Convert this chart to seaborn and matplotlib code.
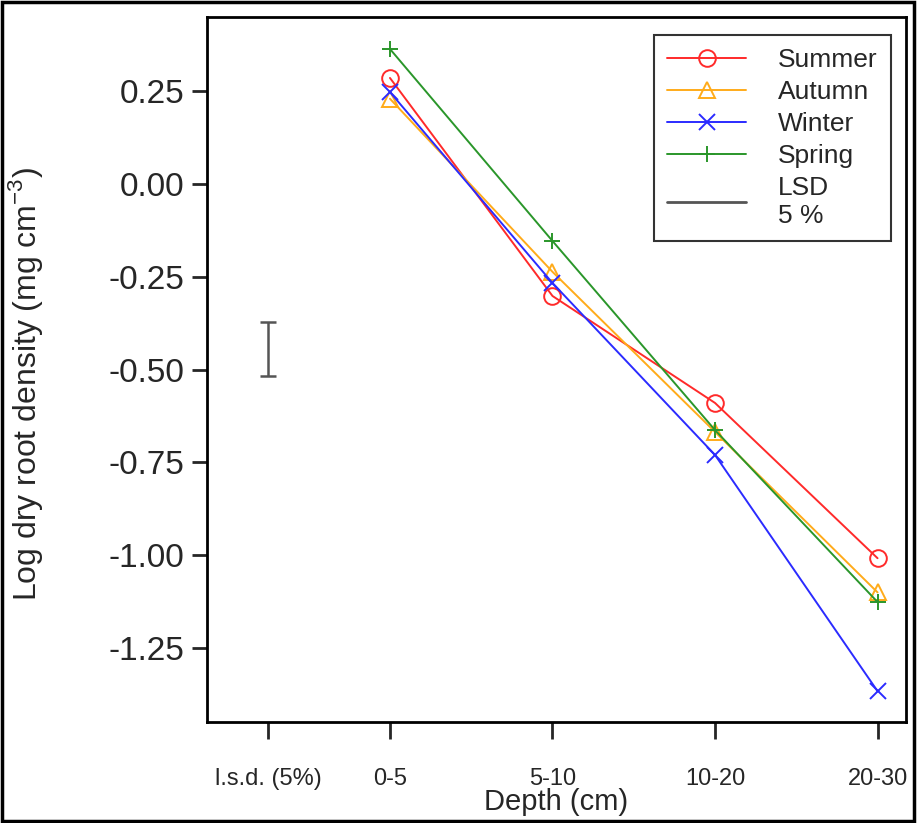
"""
Log dry root density against soil depth for four seasons, with the 5 % LSD bar.
"""
import pandas as pd
import seaborn as sns
import matplotlib.pyplot as plt
from matplotlib.lines import Line2D
from matplotlib.patches import Rectangle

# data
depth_labels = ["0-5", "5-10", "10-20", "20-30"]
depth_pos = [1, 2, 3, 4]
summer = [0.285, -0.302, -0.590, -1.008]
autumn = [0.229, -0.237, -0.668, -1.100]
winter = [0.247, -0.267, -0.730, -1.366]
spring = [0.363, -0.154, -0.663, -1.126]
seasons = ["Summer", "Autumn", "Winter", "Spring"]
lsd_pos = 0.25
lsd_centre = -0.445
lsd_value = 0.145

colors = {"Summer": "#ff2a2a", "Autumn": "#ffab1a", "Winter": "#2b2bff", "Spring": "#2a962a"}
markers = {"Summer": "o", "Autumn": "^", "Winter": "x", "Spring": "+"}

df = pd.DataFrame({
    "pos": depth_pos * 4,
    "value": summer + autumn + winter + spring,
    "Season": [s for s in seasons for _ in depth_pos],
})

sns.set_style("ticks")
plt.rcParams["font.family"] = ["Liberation Sans", "DejaVu Sans"]
plt.rcParams["axes.unicode_minus"] = False

fig = plt.figure(figsize=(9.17, 8.23), dpi=100)
ax = fig.add_axes([0.2257, 0.1227, 0.7623, 0.8566])

for s in seasons:
    sub = df[df["Season"] == s]
    sns.lineplot(data=sub, x="pos", y="value", ax=ax, color=colors[s], lw=1.4,
                 marker=markers[s], markersize=12, markerfacecolor="none",
                 markeredgecolor=colors[s], markeredgewidth=1.4, legend=False)

ax.errorbar([lsd_pos], [lsd_centre], yerr=[lsd_value / 2], color="#555555",
            lw=1.8, capsize=6, capthick=1.8)

ax.set_xlim(-0.126, 4.175)
ax.set_ylim(-1.449, 0.449)
ax.set_yticks([0.25, 0.0, -0.25, -0.5, -0.75, -1.0, -1.25])
ax.set_yticklabels(["0.25", "0.00", "-0.25", "-0.50", "-0.75", "-1.00", "-1.25"], fontsize=24)
ax.set_xticks([lsd_pos] + depth_pos)
ax.set_xticklabels(["l.s.d. (5%)"] + depth_labels, fontsize=17)
ax.tick_params(axis="y", direction="out", length=11, width=2, pad=5)
ax.tick_params(axis="x", direction="out", length=12, width=2, pad=21)

for sp in ax.spines.values():
    sp.set_visible(True)
    sp.set_linewidth(2)
    sp.set_color("black")

ax.set_xlabel("Depth (cm)", fontsize=21, va="top")
ax.xaxis.set_label_coords(0.5, -0.094)
ax.set_ylabel("Log dry root density (mg cm$^{\\mathregular{-3}}$)", fontsize=23)
ax.yaxis.set_label_coords(-0.232, 0.48)

handles = [Line2D([], [], color=colors[s], lw=1.4, marker=markers[s], markersize=12,
                  markerfacecolor="none", markeredgecolor=colors[s], markeredgewidth=1.4)
           for s in seasons]
handles.append(Line2D([], [], color="#555555", lw=2))
leg = ax.legend(handles, seasons + ["LSD\n5 %"], loc="upper right",
                bbox_to_anchor=(0.9785, 0.9745), borderaxespad=0, fontsize=19,
                frameon=True, fancybox=False, handlelength=3.0, handletextpad=1.2,
                labelspacing=0.3, borderpad=0.5)
leg.get_frame().set_edgecolor("black")
leg.get_frame().set_linewidth(1.5)

# outer frame round the whole figure
fig.patches.append(Rectangle((0.002, 0.002), 0.995, 0.995, transform=fig.transFigure,
                             fill=False, edgecolor="black", lw=2.5))

fig.savefig("out.png", dpi=100)
